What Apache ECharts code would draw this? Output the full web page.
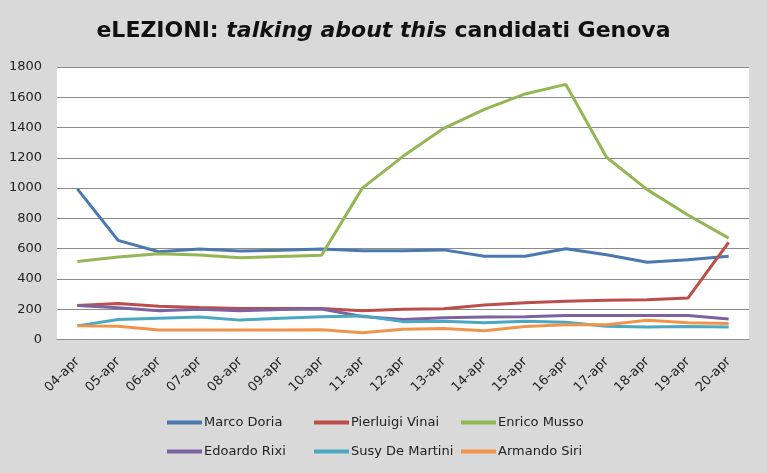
<!DOCTYPE html>
<html>
<head>
<meta charset="utf-8">
<script src="https://cdn.jsdelivr.net/npm/echarts@6/dist/echarts.min.js"></script>
<style>html,body{margin:0;padding:0;background:#d9d9d9;}#c{width:767px;height:473px;}</style>
</head>
<body>
<div id="c"></div>
<script>
const categories = ['04-apr','05-apr','06-apr','07-apr','08-apr','09-apr','10-apr','11-apr','12-apr','13-apr','14-apr','15-apr','16-apr','17-apr','18-apr','19-apr','20-apr'];
const yTicks = [0, 200, 400, 600, 800, 1000, 1200, 1400, 1600, 1800];
const marcoDoria = [995, 655, 580, 598, 585, 590, 598, 587, 587, 592, 550, 550, 600, 560, 510, 527, 550];
const pierluigiVinai = [225, 237, 220, 212, 205, 205, 205, 190, 200, 203, 228, 242, 252, 260, 262, 274, 642];
const enricoMusso = [515, 545, 567, 558, 540, 549, 556, 1000, 1210, 1395, 1520, 1622, 1685, 1204, 990, 822, 670];
const edoardoRixi = [225, 210, 190, 200, 190, 198, 202, 152, 132, 143, 148, 150, 158, 158, 158, 158, 136];
const susyDeMartini = [90, 132, 140, 148, 128, 140, 150, 156, 118, 120, 110, 120, 114, 88, 82, 86, 82];
const armandoSiri = [90, 88, 62, 62, 62, 62, 65, 45, 68, 73, 58, 86, 98, 98, 127, 110, 105];
const seriesNames = ['Marco Doria','Pierluigi Vinai','Enrico Musso','Edoardo Rixi','Susy De Martini','Armando Siri'];
const seriesData = [marcoDoria, pierluigiVinai, enricoMusso, edoardoRixi, susyDeMartini, armandoSiri];
const colors = ['#4a78b0','#bb4d4a','#95b655','#7d62a0','#4aa8c2','#f0944c'];

const chart = echarts.init(document.getElementById('c'), null, {renderer:'canvas'});
const FONT = '"DejaVu Sans", sans-serif';
const legendCols = [[0,3],[1,4],[2,5]];
const legendLefts = [162, 309, 456];
chart.setOption({
  backgroundColor: '#d9d9d9',
  animation: false,
  color: colors,
  title: {
    text: '{b|eLEZIONI: }{i|talking about this}{b| candidati Genova}',
    left: 'center',
    top: 15,
    textStyle: {
      rich: {
        b: {fontFamily: FONT, fontWeight: 'bold', fontSize: 22, color: '#111'},
        i: {fontFamily: FONT, fontWeight: 'bold', fontStyle: 'italic', fontSize: 22, color: '#111'}
      }
    }
  },
  legend: legendCols.map((idx, k) => ({
    data: idx.map(i => seriesNames[i]),
    orient: 'vertical',
    left: legendLefts[k],
    top: 411,
    itemWidth: 35,
    itemHeight: 4,
    itemGap: 16,
    icon: 'rect',
    textStyle: {fontFamily: FONT, fontSize: 13, color: '#222', padding: [0,0,0,-3]}
  })),
  grid: {left: 57, right: 18, top: 67, bottom: 133.5, show: true, backgroundColor: '#ffffff', borderWidth: 0},
  xAxis: {
    type: 'category',
    data: categories,
    boundaryGap: true,
    axisLine: {lineStyle: {color: '#8c8c8c', width: 1}},
    axisTick: {show: false},
    axisLabel: {rotate: 45, fontFamily: FONT, fontSize: 13, color: '#222', margin: 20, interval: 0}
  },
  yAxis: {
    type: 'value',
    min: yTicks[0],
    max: yTicks[yTicks.length-1],
    interval: 200,
    axisLine: {show: false},
    axisTick: {show: false},
    axisLabel: {fontFamily: FONT, fontSize: 13, color: '#222', margin: 15, formatter: v => String(v)},
    splitLine: {lineStyle: {color: '#8c8c8c', width: 1}}
  },
  series: seriesNames.map((n, i) => ({
    name: n,
    type: 'line',
    data: seriesData[i],
    symbol: 'none',
    lineStyle: {width: 3, color: colors[i]},
    itemStyle: {color: colors[i]}
  }))
});
</script>
</body>
</html>
